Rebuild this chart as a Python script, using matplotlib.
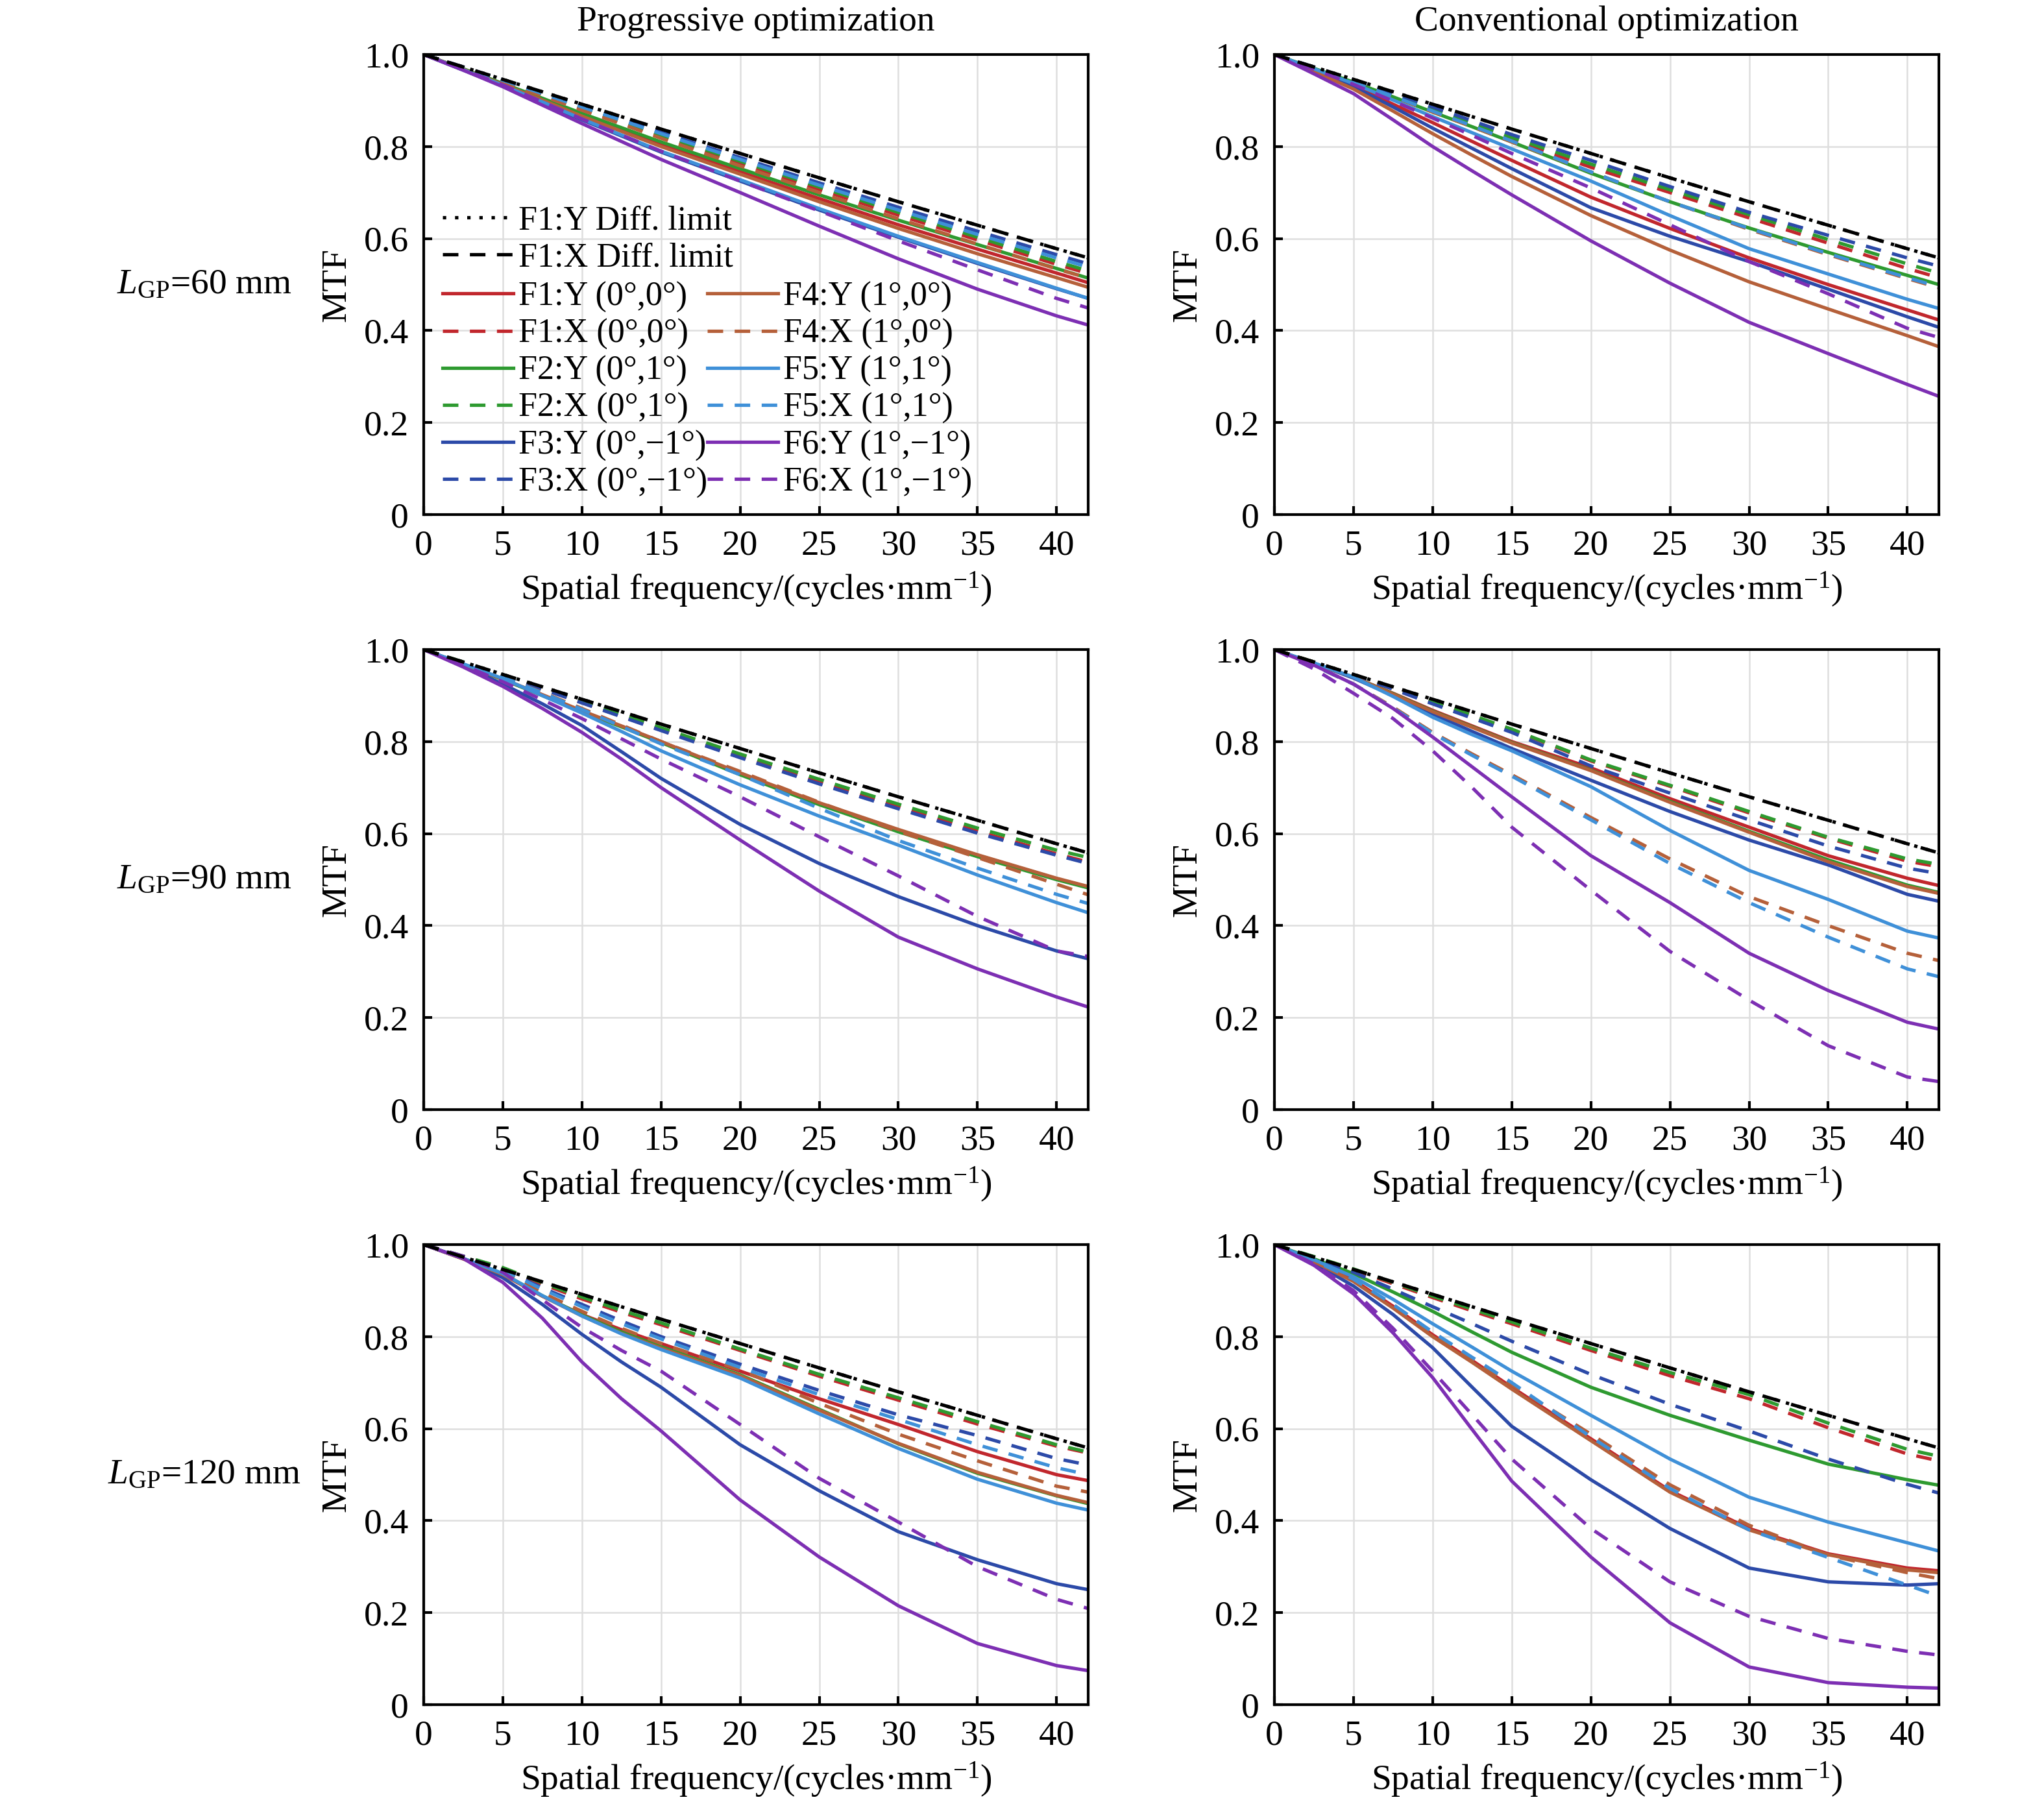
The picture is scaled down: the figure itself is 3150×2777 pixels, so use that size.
import matplotlib
matplotlib.use("Agg")
import matplotlib.pyplot as plt

plt.rcParams["font.family"] = ["Liberation Serif", "DejaVu Serif"]
plt.rcParams["mathtext.fontset"] = "custom"
plt.rcParams["mathtext.rm"] = "Liberation Serif"
plt.rcParams["mathtext.it"] = "Liberation Serif:italic"

# spatial frequency samples (cycles/mm)
freq = [0, 2.5, 5, 7.5, 10, 12.5, 15, 20, 25, 30, 35, 40, 42]

# diffraction limit (Y dotted, X dashed, they coincide)
diff_y = [1.0, .973, .946, .919, .892, .865, .838, .785, .732, .680, .629, .578, .558]
diff_x = [1.0, .973, .946, .919, .892, .865, .838, .785, .732, .680, .629, .578, .558]

field_labels = [
    "F1:Y (0°,0°)", "F1:X (0°,0°)",
    "F2:Y (0°,1°)", "F2:X (0°,1°)",
    "F3:Y (0°,\u22121°)", "F3:X (0°,\u22121°)",
    "F4:Y (1°,0°)", "F4:X (1°,0°)",
    "F5:Y (1°,1°)", "F5:X (1°,1°)",
    "F6:Y (1°,\u22121°)", "F6:X (1°,\u22121°)",
]

# rows: F1Y F1X F2Y F2X F3Y F3X F4Y F4X F5Y F5X F6Y F6X
prog_60 = [
    [1, .968, .935, .902, .868, .836, .805, .745, .687, .630, .577, .525, .504],
    [1, .971, .942, .912, .882, .852, .822, .764, .707, .651, .597, .544, .524],
    [1, .969, .937, .905, .872, .841, .810, .752, .695, .640, .587, .535, .514],
    [1, .972, .943, .914, .884, .855, .825, .768, .712, .657, .603, .550, .530],
    [1, .966, .932, .895, .858, .823, .788, .725, .662, .603, .546, .491, .470],
    [1, .973, .945, .917, .888, .860, .831, .776, .721, .668, .616, .565, .545],
    [1, .968, .935, .901, .866, .833, .800, .740, .680, .622, .567, .515, .494],
    [1, .971, .941, .910, .879, .849, .818, .758, .700, .643, .588, .534, .514],
    [1, .967, .933, .897, .860, .825, .790, .728, .665, .605, .548, .492, .470],
    [1, .972, .944, .915, .886, .857, .828, .772, .716, .662, .609, .558, .538],
    [1, .966, .930, .890, .850, .811, .772, .700, .627, .556, .490, .432, .412],
    [1, .967, .934, .897, .860, .825, .790, .725, .660, .595, .532, .470, .449],
]
conv_60 = [
    [1, .967, .932, .892, .852, .811, .770, .690, .622, .558, .500, .445, .423],
    [1, .970, .940, .908, .876, .846, .815, .755, .700, .645, .590, .535, .515],
    [1, .970, .940, .908, .875, .843, .810, .742, .680, .623, .570, .520, .500],
    [1, .971, .942, .911, .880, .850, .820, .762, .706, .652, .598, .545, .525],
    [1, .966, .930, .886, .840, .796, .752, .667, .605, .550, .490, .430, .407],
    [1, .973, .945, .916, .886, .856, .826, .770, .713, .657, .607, .558, .540],
    [1, .963, .925, .877, .828, .781, .735, .650, .575, .506, .447, .389, .365],
    [1, .970, .940, .908, .875, .843, .810, .745, .680, .620, .565, .513, .493],
    [1, .969, .937, .901, .865, .830, .795, .725, .650, .578, .523, .468, .448],
    [1, .970, .940, .909, .877, .845, .812, .745, .680, .622, .567, .515, .495],
    [1, .958, .915, .858, .800, .747, .695, .595, .503, .418, .350, .283, .257],
    [1, .968, .935, .899, .862, .824, .785, .710, .630, .550, .480, .405, .385],
]
prog_90 = [
    [1, .968, .935, .901, .866, .833, .800, .730, .665, .607, .552, .502, .484],
    [1, .972, .944, .915, .885, .856, .826, .768, .712, .658, .605, .556, .538],
    [1, .968, .935, .900, .865, .832, .798, .728, .663, .604, .550, .500, .482],
    [1, .973, .945, .917, .888, .859, .830, .773, .718, .664, .612, .564, .548],
    [1, .965, .925, .882, .835, .778, .720, .620, .535, .463, .400, .345, .328],
    [1, .972, .944, .914, .884, .854, .824, .765, .708, .654, .601, .553, .535],
    [1, .968, .936, .902, .867, .834, .800, .732, .667, .609, .554, .503, .485],
    [1, .970, .940, .907, .872, .836, .800, .735, .668, .605, .548, .490, .467],
    [1, .969, .937, .900, .862, .822, .780, .706, .638, .575, .510, .450, .428],
    [1, .970, .940, .906, .870, .833, .795, .728, .655, .585, .525, .468, .448],
    [1, .962, .920, .872, .820, .762, .700, .586, .475, .375, .306, .245, .223],
    [1, .966, .930, .891, .850, .806, .762, .680, .593, .508, .420, .345, .333],
]
conv_90 = [
    [1, .970, .940, .905, .868, .834, .800, .743, .676, .614, .552, .503, .487],
    [1, .973, .945, .916, .886, .856, .826, .758, .703, .645, .590, .540, .528],
    [1, .970, .940, .904, .866, .832, .798, .738, .670, .605, .543, .488, .472],
    [1, .973, .945, .917, .887, .857, .827, .760, .705, .648, .592, .545, .533],
    [1, .970, .938, .900, .860, .822, .785, .716, .648, .586, .532, .468, .453],
    [1, .972, .944, .914, .882, .851, .820, .747, .688, .630, .573, .525, .513],
    [1, .970, .940, .903, .865, .831, .797, .737, .668, .603, .539, .485, .470],
    [1, .965, .925, .875, .820, .773, .728, .635, .545, .463, .400, .340, .324],
    [1, .971, .940, .898, .853, .815, .780, .702, .607, .520, .457, .388, .373],
    [1, .965, .925, .873, .818, .770, .725, .630, .535, .450, .375, .306, .289],
    [1, .966, .925, .872, .810, .745, .680, .552, .450, .340, .259, .190, .175],
    [1, .958, .905, .850, .780, .700, .614, .477, .344, .238, .139, .071, .061],
]
prog_120 = [
    [1, .969, .935, .888, .848, .815, .785, .725, .665, .609, .550, .500, .487],
    [1, .974, .948, .914, .882, .853, .826, .770, .714, .662, .610, .562, .547],
    [1, .970, .937, .889, .847, .810, .778, .717, .642, .567, .503, .454, .437],
    [1, .975, .950, .917, .886, .857, .830, .773, .718, .667, .615, .565, .549],
    [1, .970, .928, .870, .805, .745, .690, .565, .465, .376, .315, .263, .250],
    [1, .973, .945, .906, .870, .834, .800, .740, .683, .630, .585, .535, .521],
    [1, .969, .935, .888, .845, .807, .775, .715, .640, .568, .505, .455, .439],
    [1, .971, .940, .895, .855, .818, .785, .728, .655, .588, .530, .475, .462],
    [1, .970, .937, .889, .845, .806, .772, .710, .632, .557, .490, .438, .423],
    [1, .973, .945, .903, .865, .828, .795, .733, .674, .620, .565, .515, .500],
    [1, .970, .918, .840, .745, .665, .595, .445, .321, .215, .133, .085, .074],
    [1, .975, .940, .880, .820, .770, .725, .609, .492, .397, .300, .229, .209],
]
conv_120 = [
    [1, .965, .923, .866, .804, .748, .690, .578, .465, .383, .328, .297, .291],
    [1, .973, .945, .915, .885, .856, .828, .770, .715, .665, .602, .545, .530],
    [1, .969, .937, .897, .855, .810, .766, .690, .629, .575, .523, .489, .477],
    [1, .974, .947, .918, .888, .860, .832, .775, .722, .674, .612, .555, .540],
    [1, .960, .910, .848, .776, .690, .605, .489, .383, .297, .267, .260, .263],
    [1, .970, .940, .903, .865, .828, .790, .718, .653, .595, .534, .479, .460],
    [1, .963, .920, .862, .800, .744, .686, .574, .462, .380, .326, .293, .287],
    [1, .964, .922, .866, .805, .750, .695, .588, .478, .390, .325, .287, .274],
    [1, .967, .930, .881, .828, .777, .725, .629, .534, .451, .397, .352, .334],
    [1, .965, .925, .870, .810, .755, .700, .582, .470, .380, .320, .260, .236],
    [1, .955, .893, .808, .711, .598, .486, .321, .178, .082, .048, .038, .036],
    [1, .958, .900, .818, .725, .630, .534, .383, .267, .192, .144, .116, .108],
]

panels = [[prog_60, conv_60], [prog_90, conv_90], [prog_120, conv_120]]
col_titles = ["Progressive optimization", "Conventional optimization"]
row_labels = [r"$L_{\mathrm{GP}}$=60 mm", r"$L_{\mathrm{GP}}$=90 mm", r"$L_{\mathrm{GP}}$=120 mm"]

field_colors = ["#c1272d", "#2e9a30", "#2c4aa8", "#b5603a", "#3f90d8", "#7d2fb3"]
DASH = (4.6, 3.4)
DOT = (1.0, 2.6)
LW = 1.25

fig = plt.figure(figsize=(10.5, 9.257), dpi=300)
col_left = [0.2073, 0.6235]
row_bottom = [0.7144, 0.3842, 0.0540]
ax_w, ax_h = 0.3251, 0.2553

fs = 13.3
legend_fs = 12.5
for r in range(3):
    for c in range(2):
        ax = fig.add_axes([col_left[c], row_bottom[r], ax_w, ax_h])
        data = panels[r][c]
        lines = []
        ly, = ax.plot(freq, diff_y, color="black", lw=LW, dashes=DOT, zorder=4,
                      label="F1:Y Diff. limit")
        lx, = ax.plot(freq, diff_x, color="black", lw=LW, dashes=DASH, zorder=4,
                      label="F1:X Diff. limit")
        for i, vals in enumerate(data):
            color = field_colors[i // 2]
            if i % 2 == 0:
                ln, = ax.plot(freq, vals, color=color, lw=LW, label=field_labels[i])
            else:
                ln, = ax.plot(freq, vals, color=color, lw=LW, dashes=DASH,
                              label=field_labels[i])
            lines.append(ln)
        if r == 0 and c == 0:
            common = dict(loc="upper left", frameon=False, fontsize=legend_fs,
                          borderpad=0, borderaxespad=0, labelspacing=0.17,
                          handlelength=2.1, handletextpad=0.15)
            leg1 = ax.legend(handles=[ly, lx], bbox_to_anchor=(0.028, 0.672),
                             **common)
            ax.add_artist(leg1)
            ax.legend(handles=lines, ncol=2, bbox_to_anchor=(0.028, 0.507),
                      columnspacing=0.0, **common)

        ax.set_xlim(0, 42)
        ax.set_ylim(0, 1.0)
        ax.set_xticks([0, 5, 10, 15, 20, 25, 30, 35, 40])
        ax.set_yticks([0, 0.2, 0.4, 0.6, 0.8, 1.0])
        ax.set_yticklabels(["0", "0.2", "0.4", "0.6", "0.8", "1.0"])
        ax.tick_params(direction="in", length=3.2, width=1.0, labelsize=fs,
                       pad=5.5, top=False, right=False)
        ax.grid(True, color="#dedede", lw=0.6)
        ax.set_axisbelow(True)
        for sp in ax.spines.values():
            sp.set_linewidth(1.0)
        ax.set_xlabel("Spatial frequency/(cycles\u00b7mm$^{\u22121}$)", fontsize=fs,
                      labelpad=3)
        ax.set_ylabel("MTF", fontsize=fs, labelpad=4)
        if r == 0:
            ax.set_title(col_titles[c], fontsize=fs, pad=9)
    fig.text(0.1, row_bottom[r] + ax_h / 2, row_labels[r], ha="center",
             va="center", fontsize=fs)

fig.savefig("out.png", dpi=300)
